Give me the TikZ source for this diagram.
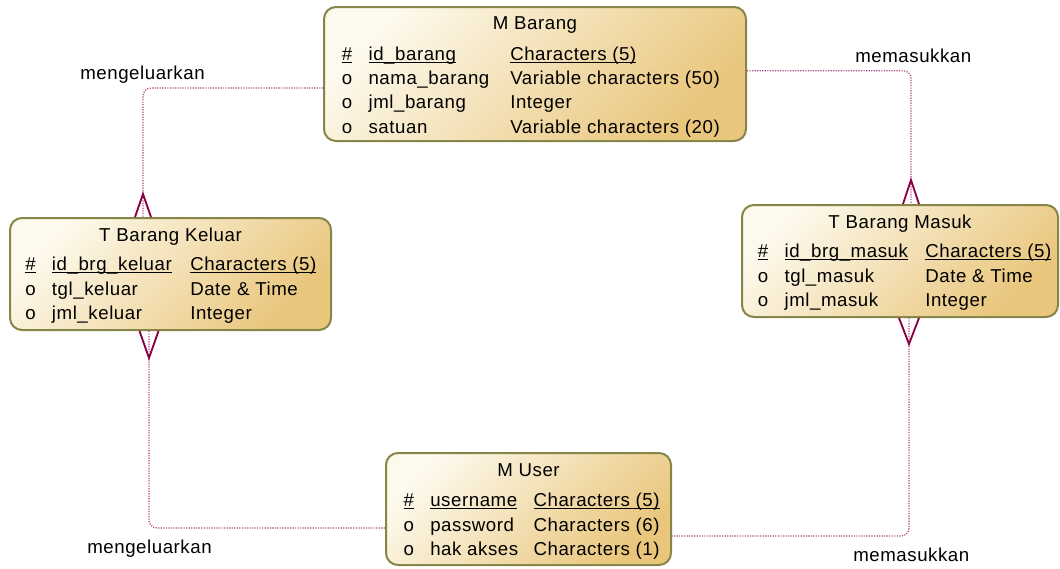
\documentclass[tikz,border=0pt]{standalone}
\usepackage{fontspec}
\setmainfont[LetterSpace=3]{Liberation Sans}
\usetikzlibrary{calc}
\definecolor{boxborder}{RGB}{134,134,72}
\definecolor{boxlight}{RGB}{253,249,236}
\definecolor{boxdark}{RGB}{233,198,124}
\definecolor{relline}{RGB}{178,70,130}
\definecolor{crowcol}{RGB}{138,0,68}
\newcommand\keyu[1]{\setbox0\hbox{#1}\rlap{\rule[-2pt]{\wd0}{0.8pt}}\box0}
\tikzset{
  entity/.style={draw=boxborder, line width=1.5pt, rounded corners=9pt,
    top color=boxlight, bottom color=boxdark, shading angle=45,
    inner sep=0pt},
  txt/.style={inner sep=0pt, anchor=base west, font=\fontsize{14}{16}\selectfont},
  ttl/.style={inner sep=0pt, anchor=base, font=\fontsize{14}{16}\selectfont},
  rel/.style={draw=relline, densely dotted, line width=0.9pt, rounded corners=6pt},
  crowfoot/.style={draw=crowcol, line width=1.4pt, line join=miter}
}
\begin{document}
\begin{tikzpicture}[x=0.75pt,y=-0.75pt]
\useasboundingbox (0,0) rectangle (1060,568);
% entities
\node[entity, minimum width=316.5pt, minimum height=100.5pt] (mb) at (535,74) {};
\node[entity, minimum width=240.75pt, minimum height=84pt] (tbk) at (170.5,274) {};
\node[entity, minimum width=237pt, minimum height=84pt] (tbm) at (900,261) {};
\node[entity, minimum width=213.75pt, minimum height=84pt] (mu) at (528.5,509) {};
% M Barang
\node[ttl] (mbt) at (535,29.5) {M Barang};
\node[txt] (mb1a) at (341.7,60) {\keyu{\#}};
\node[txt] (mb1b) at (368.3,60) {\keyu{id\_barang}};
\node[txt] (mb1c) at (510,60) {\keyu{Characters (5)}};
\node[txt] (mb2a) at (341.7,84.3) {o};
\node[txt] (mb2b) at (368.3,84.3) {nama\_barang};
\node[txt] (mb2c) at (510,84.3) {Variable characters (50)};
\node[txt] (mb3a) at (341.7,108.6) {o};
\node[txt] (mb3b) at (368.3,108.6) {jml\_barang};
\node[txt] (mb3c) at (510,108.6) {Integer};
\node[txt] (mb4a) at (341.7,133) {o};
\node[txt] (mb4b) at (368.3,133) {satuan};
\node[txt] (mb4c) at (510,133) {Variable characters (20)};
% T Barang Keluar
\node[ttl] (tbkt) at (170.5,241.7) {T Barang Keluar};
\node[txt] (tbk1a) at (25,270.7) {\keyu{\#}};
\node[txt] (tbk1b) at (51.7,270.7) {\keyu{id\_brg\_keluar}};
\node[txt] (tbk1c) at (190,270.7) {\keyu{Characters (5)}};
\node[txt] (tbk2a) at (25,295) {o};
\node[txt] (tbk2b) at (51.7,295) {tgl\_keluar};
\node[txt] (tbk2c) at (190,295) {Date \& Time};
\node[txt] (tbk3a) at (25,319.3) {o};
\node[txt] (tbk3b) at (51.7,319.3) {jml\_keluar};
\node[txt] (tbk3c) at (190,319.3) {Integer};
% T Barang Masuk
\node[ttl] (tbmt) at (900,228.3) {T Barang Masuk};
\node[txt] (tbm1a) at (757.7,257.7) {\keyu{\#}};
\node[txt] (tbm1b) at (784.3,257.7) {\keyu{id\_brg\_masuk}};
\node[txt] (tbm1c) at (925,257.7) {\keyu{Characters (5)}};
\node[txt] (tbm2a) at (757.7,282) {o};
\node[txt] (tbm2b) at (784.3,282) {tgl\_masuk};
\node[txt] (tbm2c) at (925,282) {Date \& Time};
\node[txt] (tbm3a) at (757.7,306.5) {o};
\node[txt] (tbm3b) at (784.3,306.5) {jml\_masuk};
\node[txt] (tbm3c) at (925,306.5) {Integer};
% M User
\node[ttl] (mut) at (528.5,476.7) {M User};
\node[txt] (mu1a) at (403.3,506.7) {\keyu{\#}};
\node[txt] (mu1b) at (430,506.7) {\keyu{username}};
\node[txt] (mu1c) at (533.3,506.7) {\keyu{Characters (5)}};
\node[txt] (mu2a) at (403.3,531) {o};
\node[txt] (mu2b) at (430,531) {password};
\node[txt] (mu2c) at (533.3,531) {Characters (6)};
\node[txt] (mu3a) at (403.3,555.3) {o};
\node[txt] (mu3b) at (430,555.3) {hak akses};
\node[txt] (mu3c) at (533.3,555.3) {Characters (1)};
% labels
\node[txt] (l1) at (80,79.5) {mengeluarkan};
\node[txt] (l2) at (855,62) {memasukkan};
\node[txt] (l3) at (87,553) {mengeluarkan};
\node[txt] (l4) at (853,561) {memasukkan};
% connectors
\coordinate (c1a) at ($(mb.west)+(0,14)$);
\coordinate (c1b) at ($(tbk.north)+(-27.5,0)$);
\draw[rel] (c1a) -| (c1b);
\draw[crowfoot] ($(c1b)+(-8,0)$) -- ($(c1b)+(0,-23)$) -- ($(c1b)+(8,0)$);
\coordinate (c2a) at ($(mb.east)+(0,-3.3)$);
\coordinate (c2b) at ($(tbm.north)+(11,0)$);
\draw[rel] (c2a) -| (c2b);
\draw[crowfoot] ($(c2b)+(-8,0)$) -- ($(c2b)+(0,-24)$) -- ($(c2b)+(8,0)$);
\coordinate (c3a) at ($(tbk.south)+(-21.5,0)$);
\coordinate (c3b) at ($(mu.west)+(0,19)$);
\draw[rel] (c3a) |- (c3b);
\draw[crowfoot] ($(c3a)+(-9.5,0)$) -- ($(c3a)+(0,27)$) -- ($(c3a)+(9.5,0)$);
\coordinate (c4a) at ($(tbm.south)+(9,0)$);
\coordinate (c4b) at ($(mu.east)+(0,27)$);
\draw[rel] (c4a) |- (c4b);
\draw[crowfoot] ($(c4a)+(-10,0)$) -- ($(c4a)+(0,26)$) -- ($(c4a)+(10,0)$);
\end{tikzpicture}
\end{document}
